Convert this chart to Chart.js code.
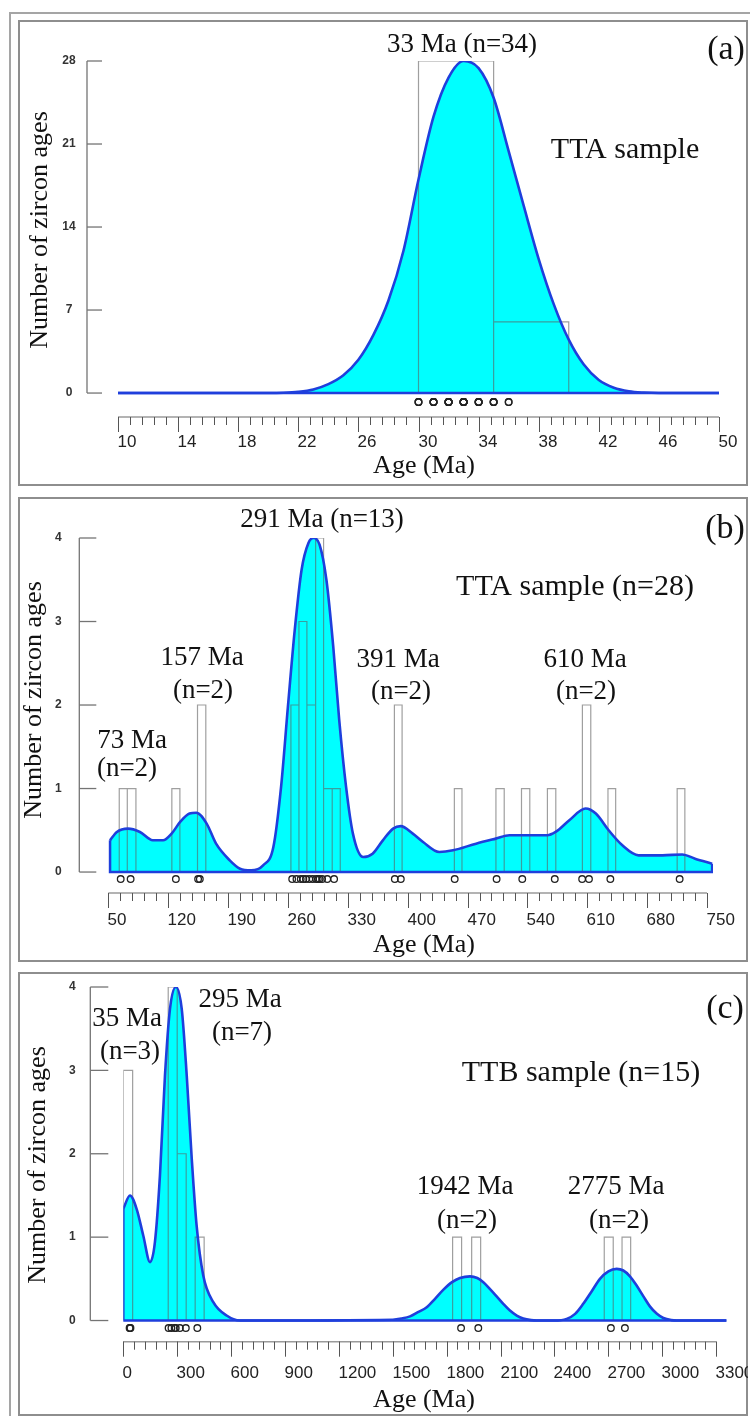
<!DOCTYPE html>
<html>
<head>
<meta charset="utf-8">
<script src="https://cdn.jsdelivr.net/npm/chart.js@4.4.1/dist/chart.umd.min.js"></script>
<style>
  html, body { margin: 0; padding: 0; background: #fff; }
  body { width: 750px; height: 1416px; position: relative; overflow: hidden; }
  #frame { position: absolute; left: 9px; top: 12px; width: 800px; height: 1500px; border: 2px solid #a5a5a5; }
  canvas { position: absolute; left: 18px; }
</style>
</head>
<body>
<div id="frame"></div>
<canvas id="chartA" width="730" height="466" style="top:20px"></canvas>
<canvas id="chartB" width="730" height="465" style="top:497px"></canvas>
<canvas id="chartC" width="730" height="444" style="top:972px"></canvas>
<script>
// (a) TTA sample
const aCurveAge = [10, 11, 12, 13, 14, 15, 16, 17, 18, 19, 20, 21, 22, 23, 24, 25, 26, 27, 28, 29, 30,
  31, 32, 33, 34, 35, 36, 37, 38, 39, 40, 41, 42, 43, 44, 45, 46, 47, 48, 49, 50];
const aCurveVal = [0, 0, 0, 0, 0, 0, 0, 0, 0, 0, 0, 0.02, 0.1, 0.3, 0.75, 1.5, 2.8, 4.9, 7.8, 12.0, 18.0,
  23.3, 26.6, 28.0, 27.4, 24.9, 20.4, 15.8, 11.3, 7.5, 4.5, 2.4, 1.1, 0.45, 0.15, 0.04, 0, 0, 0, 0, 0];
const aBinStart = [30, 35];
const aBinEnd = [35, 40];
const aBinCount = [28, 6];
const aGrainAge = [30, 30, 30, 31, 31, 31, 31, 31, 32, 32, 32, 32, 32, 32, 32, 33, 33, 33, 33, 33, 33, 33, 33,
  34, 34, 34, 34, 34, 35, 35, 35, 35, 36, 36];
const aXTicks = [10, 14, 18, 22, 26, 30, 34, 38, 42, 46, 50];
const aYTicks = [0, 7, 14, 21, 28];

// (b) TTA sample (n=28)
const bCurveAge = [52, 60, 73, 87, 102, 114, 124, 134, 145, 153, 165, 176, 192, 204, 217, 231, 243, 252,
  260, 268, 276, 284, 290, 297, 305, 313, 320, 328, 336, 348, 359, 371, 383, 392, 406, 418, 437, 453,
  480, 503, 519, 538, 563, 573, 589, 608, 620, 635, 651, 670, 698, 721, 736, 756];
const bCurveVal = [0.38, 0.48, 0.52, 0.48, 0.38, 0.38, 0.46, 0.60, 0.70, 0.71, 0.58, 0.34, 0.14, 0.04, 0.02,
  0.08, 0.30, 1.02, 1.98, 2.90, 3.62, 3.94, 4.0, 3.92, 3.50, 2.70, 1.82, 1.02, 0.46, 0.18, 0.22, 0.38,
  0.52, 0.55, 0.46, 0.36, 0.24, 0.26, 0.34, 0.40, 0.44, 0.44, 0.44, 0.48, 0.62, 0.76, 0.70, 0.50, 0.32,
  0.20, 0.20, 0.21, 0.16, 0.10];
const bBinStart = [62.8, 72.2, 124.3, 154.3, 263.5, 272.9, 282.2, 292.4, 301.7, 311.8, 384.5, 454.6, 503.2,
  533.1, 563.4, 604.3, 634.2, 715.1];
const bBinEnd = [72.2, 82.3, 133.7, 164.0, 272.9, 282.2, 292.4, 301.7, 311.8, 321.2, 393.5, 463.5, 512.9,
  542.8, 573.2, 614.1, 643.2, 724.1];
const bBinCount = [1, 1, 1, 2, 2, 3, 2, 4, 1, 1, 2, 1, 1, 1, 1, 2, 1, 1];
const bGrainAge = [64.5, 76.1, 129, 155, 157, 265, 270, 275, 278, 281, 285, 289, 293, 295, 297, 300, 306,
  314, 385, 392, 455, 504, 534, 572, 604, 612, 637, 718];
const bXTicks = [50, 120, 190, 260, 330, 400, 470, 540, 610, 680, 750];
const bYTicks = [0, 1, 2, 3, 4];

// (c) TTB sample (n=15)
const cCurveAge = [0, 37, 74, 111, 149, 176, 204, 232, 260, 293, 325, 353, 381, 408, 445, 501, 575, 650,
  1500, 1550, 1596, 1640, 1689, 1735, 1782, 1830, 1874, 1930, 1970, 2004, 2040, 2078, 2115, 2152, 2190,
  2226, 2270, 2300, 2400, 2468, 2515, 2560, 2610, 2653, 2700, 2746, 2783, 2820, 2857, 2895, 2931, 2970,
  3006, 3050, 3080, 3358];
const cCurveVal = [1.34, 1.50, 1.34, 1.02, 0.70, 0.94, 1.74, 2.94, 3.74, 4.0, 3.74, 2.94, 1.94, 1.14, 0.54,
  0.22, 0.06, 0, 0.01, 0.025, 0.05, 0.10, 0.16, 0.26, 0.37, 0.46, 0.51, 0.53, 0.51, 0.46, 0.38, 0.29, 0.20,
  0.12, 0.06, 0.025, 0.005, 0, 0, 0.02, 0.08, 0.20, 0.36, 0.50, 0.59, 0.62, 0.60, 0.53, 0.42, 0.29, 0.17,
  0.08, 0.03, 0.005, 0, 0];
const cBinStart = [0, 250, 300, 400, 1833, 1939, 2677, 2776];
const cBinEnd = [52, 300, 350, 450, 1883, 1989, 2727, 2824];
const cBinCount = [3, 4, 2, 1, 1, 1, 1, 1];
const cGrainAge = [35, 37, 40, 252, 268, 286, 292, 315, 348, 412, 1880, 1976, 2714, 2792];
const cXTicks = [0, 300, 600, 900, 1200, 1500, 1800, 2100, 2400, 2700, 3000, 3300];
const cYTicks = [0, 1, 2, 3, 4];

const CYAN = "#00ffff";
const BLUE = "#1f3fdc";
const SERIF = '"Liberation Serif", "Times New Roman", serif';
const SANS = '"Liberation Sans", Arial, sans-serif';

const panelDecor = {
  id: "panelDecor",
  afterDraw(chart, args, o) {
    const { ctx, chartArea } = chart;
    const x = chart.scales.x;
    const y = chart.scales.y;
    ctx.save();

    ctx.strokeStyle = "#8e8e8e";
    ctx.lineWidth = 2;
    ctx.strokeRect(1, 1, chart.width - 2, chart.height - 2);

    // y axis, set off to the left of the plot
    const ax = chartArea.left - o.yGap;
    const yLo = y.getPixelForValue(o.yTicks[0]);
    const yHi = y.getPixelForValue(o.yTicks[o.yTicks.length - 1]);
    ctx.strokeStyle = "#747474";
    ctx.lineWidth = 1.3;
    ctx.beginPath();
    ctx.moveTo(ax, yLo);
    ctx.lineTo(ax, yHi);
    ctx.stroke();
    ctx.font = "bold 12px " + SANS;
    ctx.fillStyle = "#333";
    ctx.textAlign = "center";
    ctx.textBaseline = "middle";
    o.yTicks.forEach(v => {
      const py = y.getPixelForValue(v);
      ctx.beginPath();
      ctx.moveTo(ax, py);
      ctx.lineTo(ax + o.yTickLen, py);
      ctx.stroke();
      ctx.fillText(String(v), ax - o.yLabelGap, py);
    });
    ctx.save();
    ctx.translate(o.yTitle[0], o.yTitle[1]);
    ctx.rotate(-Math.PI / 2);
    ctx.font = "26px " + SERIF;
    ctx.fillStyle = "#111";
    ctx.fillText("Number of zircon ages", 0, 0);
    ctx.restore();

    // x axis along the chart bottom
    const base = chartArea.bottom;
    const first = o.xTicks[0];
    const last = o.xTicks[o.xTicks.length - 1];
    ctx.strokeStyle = "#9a9a9a";
    ctx.lineWidth = 1.5;
    ctx.beginPath();
    ctx.moveTo(x.getPixelForValue(first), base);
    ctx.lineTo(x.getPixelForValue(last), base);
    ctx.stroke();
    ctx.strokeStyle = "#555";
    ctx.lineWidth = 1;
    const n = Math.round((last - first) / o.xMinor);
    for (let i = 0; i <= n; i++) {
      const px = Math.round(x.getPixelForValue(first + i * o.xMinor)) + 0.5;
      ctx.beginPath();
      ctx.moveTo(px, base);
      ctx.lineTo(px, base + 8);
      ctx.stroke();
    }
    ctx.font = "17px " + SANS;
    ctx.fillStyle = "#222";
    ctx.textAlign = "left";
    o.xTicks.forEach(v => {
      const px = Math.round(x.getPixelForValue(v)) + 0.5;
      ctx.beginPath();
      ctx.moveTo(px, base);
      ctx.lineTo(px, base + 15);
      ctx.stroke();
      ctx.fillText(String(v), px - 1, base + o.xLabelDy);
    });
    ctx.textAlign = "center";
    ctx.font = "26px " + SERIF;
    ctx.fillStyle = "#111";
    ctx.fillText("Age (Ma)", o.xTitle[0], o.xTitle[1]);

    o.notes.forEach(t => {
      ctx.font = t.size + "px " + SERIF;
      ctx.fillText(t.text, t.x, t.y);
    });
    ctx.restore();
  }
};

function histPoints(starts, ends, counts) {
  const pts = [];
  starts.forEach((s, i) => {
    pts.push({ x: s, y: 0 }, { x: s, y: counts[i] }, { x: ends[i], y: counts[i] }, { x: ends[i], y: 0 });
    pts.push({ x: ends[i], y: null });
  });
  return pts;
}

function makePanel(id, p) {
  const curve = p.age.map((a, i) => ({ x: a, y: p.val[i] }));
  const lastI = p.age.length - 1;
  const edges = [
    { x: p.age[0], y: p.val[0] }, { x: p.age[0], y: 0 },
    { x: p.age[lastI], y: 0 }, { x: p.age[lastI], y: p.val[lastI] }
  ];
  return new Chart(document.getElementById(id), {
    type: "scatter",
    data: {
      datasets: [
        { data: curve, showLine: true, fill: "origin", backgroundColor: CYAN, borderColor: "transparent",
          borderWidth: 0, pointRadius: 0, cubicInterpolationMode: "monotone", order: 5 },
        { data: histPoints(p.binStart, p.binEnd, p.binCount), showLine: true, spanGaps: false,
          borderColor: "rgba(95,95,95,0.6)", borderWidth: 1.2, pointRadius: 0, tension: 0, order: 4 },
        { data: edges, showLine: true, borderColor: BLUE, borderWidth: 2.6, pointRadius: 0, tension: 0, order: 3 },
        { data: curve, showLine: true, borderColor: BLUE, borderWidth: 2.6, pointRadius: 0,
          cubicInterpolationMode: "monotone", order: 2 },
        { data: p.grains.map(a => ({ x: a, y: p.rugY })), showLine: false, pointRadius: 3.3,
          pointBorderWidth: 1.3, pointBorderColor: "#222", pointBackgroundColor: "transparent", order: 1 }
      ]
    },
    options: {
      responsive: false,
      animation: false,
      devicePixelRatio: 1,
      events: [],
      layout: { padding: p.pad },
      scales: {
        x: { type: "linear", display: false, min: p.xMin, max: p.xMax },
        y: { type: "linear", display: false, min: p.yMin, max: p.yMax }
      },
      plugins: { legend: { display: false }, tooltip: { enabled: false }, panelDecor: p.decor }
    },
    plugins: [panelDecor]
  });
}

makePanel("chartA", {
  age: aCurveAge, val: aCurveVal, binStart: aBinStart, binEnd: aBinEnd, binCount: aBinCount,
  grains: aGrainAge, rugY: -0.76,
  xMin: 10, xMax: 50, yMin: -2.02, yMax: 28,
  pad: { left: 100, right: 29, top: 41, bottom: 69 },
  decor: {
    yTicks: aYTicks, yGap: 31, yTickLen: 15, yLabelGap: 18, yTitle: [22, 210],
    xTicks: aXTicks, xMinor: 0.8, xLabelDy: 25, xTitle: [406, 446],
    notes: [
      { text: "33 Ma (n=34)", x: 444, y: 25, size: 27 },
      { text: "TTA sample", x: 607, y: 130, size: 30 },
      { text: "(a)", x: 708, y: 30, size: 34 }
    ]
  }
});

makePanel("chartB", {
  age: bCurveAge, val: bCurveVal, binStart: bBinStart, binEnd: bBinEnd, binCount: bBinCount,
  grains: bGrainAge, rugY: -0.084,
  xMin: 50, xMax: 757, yMin: -0.251, yMax: 4,
  pad: { left: 90.3, right: 35, top: 41, bottom: 69 },
  decor: {
    yTicks: bYTicks, yGap: 29, yTickLen: 17, yLabelGap: 21, yTitle: [16, 203],
    xTicks: bXTicks, xMinor: 14, xLabelDy: 27, xTitle: [406, 448],
    notes: [
      { text: "291 Ma (n=13)", x: 304, y: 23, size: 27 },
      { text: "(b)", x: 707, y: 32, size: 34 },
      { text: "TTA sample (n=28)", x: 557, y: 90, size: 30 },
      { text: "73 Ma", x: 114, y: 244, size: 27 },
      { text: "(n=2)", x: 109, y: 272, size: 27 },
      { text: "157 Ma", x: 184, y: 161, size: 27 },
      { text: "(n=2)", x: 185, y: 194, size: 27 },
      { text: "391 Ma", x: 380, y: 163, size: 27 },
      { text: "(n=2)", x: 383, y: 195, size: 27 },
      { text: "610 Ma", x: 567, y: 163, size: 27 },
      { text: "(n=2)", x: 568, y: 195, size: 27 }
    ]
  }
});

makePanel("chartC", {
  age: cCurveAge, val: cCurveVal, binStart: cBinStart, binEnd: cBinEnd, binCount: cBinCount,
  grains: cGrainAge, rugY: -0.09,
  xMin: 0, xMax: 3358, yMin: -0.254, yMax: 4,
  pad: { left: 105.3, right: 21.4, top: 15, bottom: 74.3 },
  decor: {
    yTicks: cYTicks, yGap: 33, yTickLen: 18, yLabelGap: 18, yTitle: [20, 193],
    xTicks: cXTicks, xMinor: 60, xLabelDy: 32, xTitle: [406, 428],
    notes: [
      { text: "35 Ma", x: 109, y: 47, size: 27 },
      { text: "(n=3)", x: 112, y: 80, size: 27 },
      { text: "295 Ma", x: 222, y: 28, size: 27 },
      { text: "(n=7)", x: 224, y: 61, size: 27 },
      { text: "TTB sample (n=15)", x: 563, y: 101, size: 30 },
      { text: "(c)", x: 707, y: 37, size: 34 },
      { text: "1942 Ma", x: 447, y: 215, size: 27 },
      { text: "(n=2)", x: 449, y: 249, size: 27 },
      { text: "2775 Ma", x: 598, y: 215, size: 27 },
      { text: "(n=2)", x: 601, y: 249, size: 27 }
    ]
  }
});
</script>
</body>
</html>
